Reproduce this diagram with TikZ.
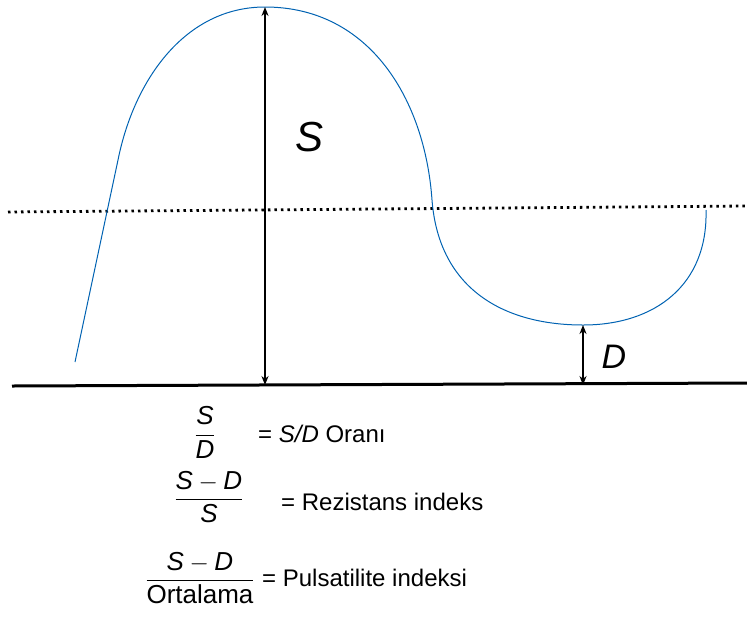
\documentclass[tikz,border=0pt]{standalone}
\usepackage{fontspec}
\setmainfont{Liberation Sans}
\usetikzlibrary{arrows.meta}
\begin{document}
\begin{tikzpicture}[x=1pt,y=-1pt,
  wave/.style={draw=blue!45!cyan!70!black, line width=1pt},
  base/.style={draw=black, line width=3pt},
  meanline/.style={draw=black, line width=2.8pt, dash pattern=on 2.5pt off 4pt},
  dim/.style={draw=black, line width=2.2pt, {Stealth[length=9pt,width=7pt]}-{Stealth[length=9pt,width=7pt]}},
  lbl/.style={font=\fontsize{24}{28}\selectfont, inner sep=0pt},
  frac/.style={font=\fontsize{26}{30}\selectfont, inner sep=0pt},
  big/.style={font=\fontsize{42}{48}\selectfont\itshape, inner sep=0pt}]
\useasboundingbox (0,0) rectangle (747,625);
% reference lines
\coordinate (bl) at (12,386);
\coordinate (br) at (747,383);
\draw[base] (bl) -- (br);
\coordinate (ml) at (8,212);
\coordinate (mr) at (747,206);
\draw[meanline] (ml) -- (mr);
% waveform
\coordinate (w0) at (75,362);
\coordinate (w1) at (118,160);
\coordinate (peak) at (265,7);
\coordinate (w3) at (432,200);
\coordinate (trough) at (583,325);
\coordinate (w5) at (706,210);
\draw[wave] (w0) -- (w1) .. controls (134,80) and (185,7) .. (peak)
  .. controls (370,7) and (425,100) .. (w3)
  .. controls (439,290) and (505,325) .. (trough)
  .. controls (655,325) and (708,285) .. (w5);
% dimensions
\coordinate (sb) at (265,385);
\coordinate (db) at (583,385);
\draw[dim] (peak) -- (sb);
\draw[dim] (trough) -- (db);
\node[big] (S) at (310,137) {S};
\node[big, font=\fontsize{34}{40}\selectfont\itshape] (D) at (614,357) {D};
% formulas
\node[frac] (f1) at (205,432) {$\displaystyle\frac{\textit{S}}{\textit{D}}$};
\node[lbl, anchor=west] (t1) at (258,434) {= \textit{S/D} Oranı};
\node[frac] (f2) at (209,497) {$\displaystyle\frac{\textit{S} - \textit{D}}{\textit{S}}$};
\node[lbl, anchor=west] (t2) at (281,502) {= Rezistans indeks};
\node[frac] (f3) at (200,578) {$\displaystyle\frac{\textit{S} - \textit{D}}{\textup{Ortalama}}$};
\node[lbl, anchor=west] (t3) at (262,578) {= Pulsatilite indeksi};
\end{tikzpicture}
\end{document}
